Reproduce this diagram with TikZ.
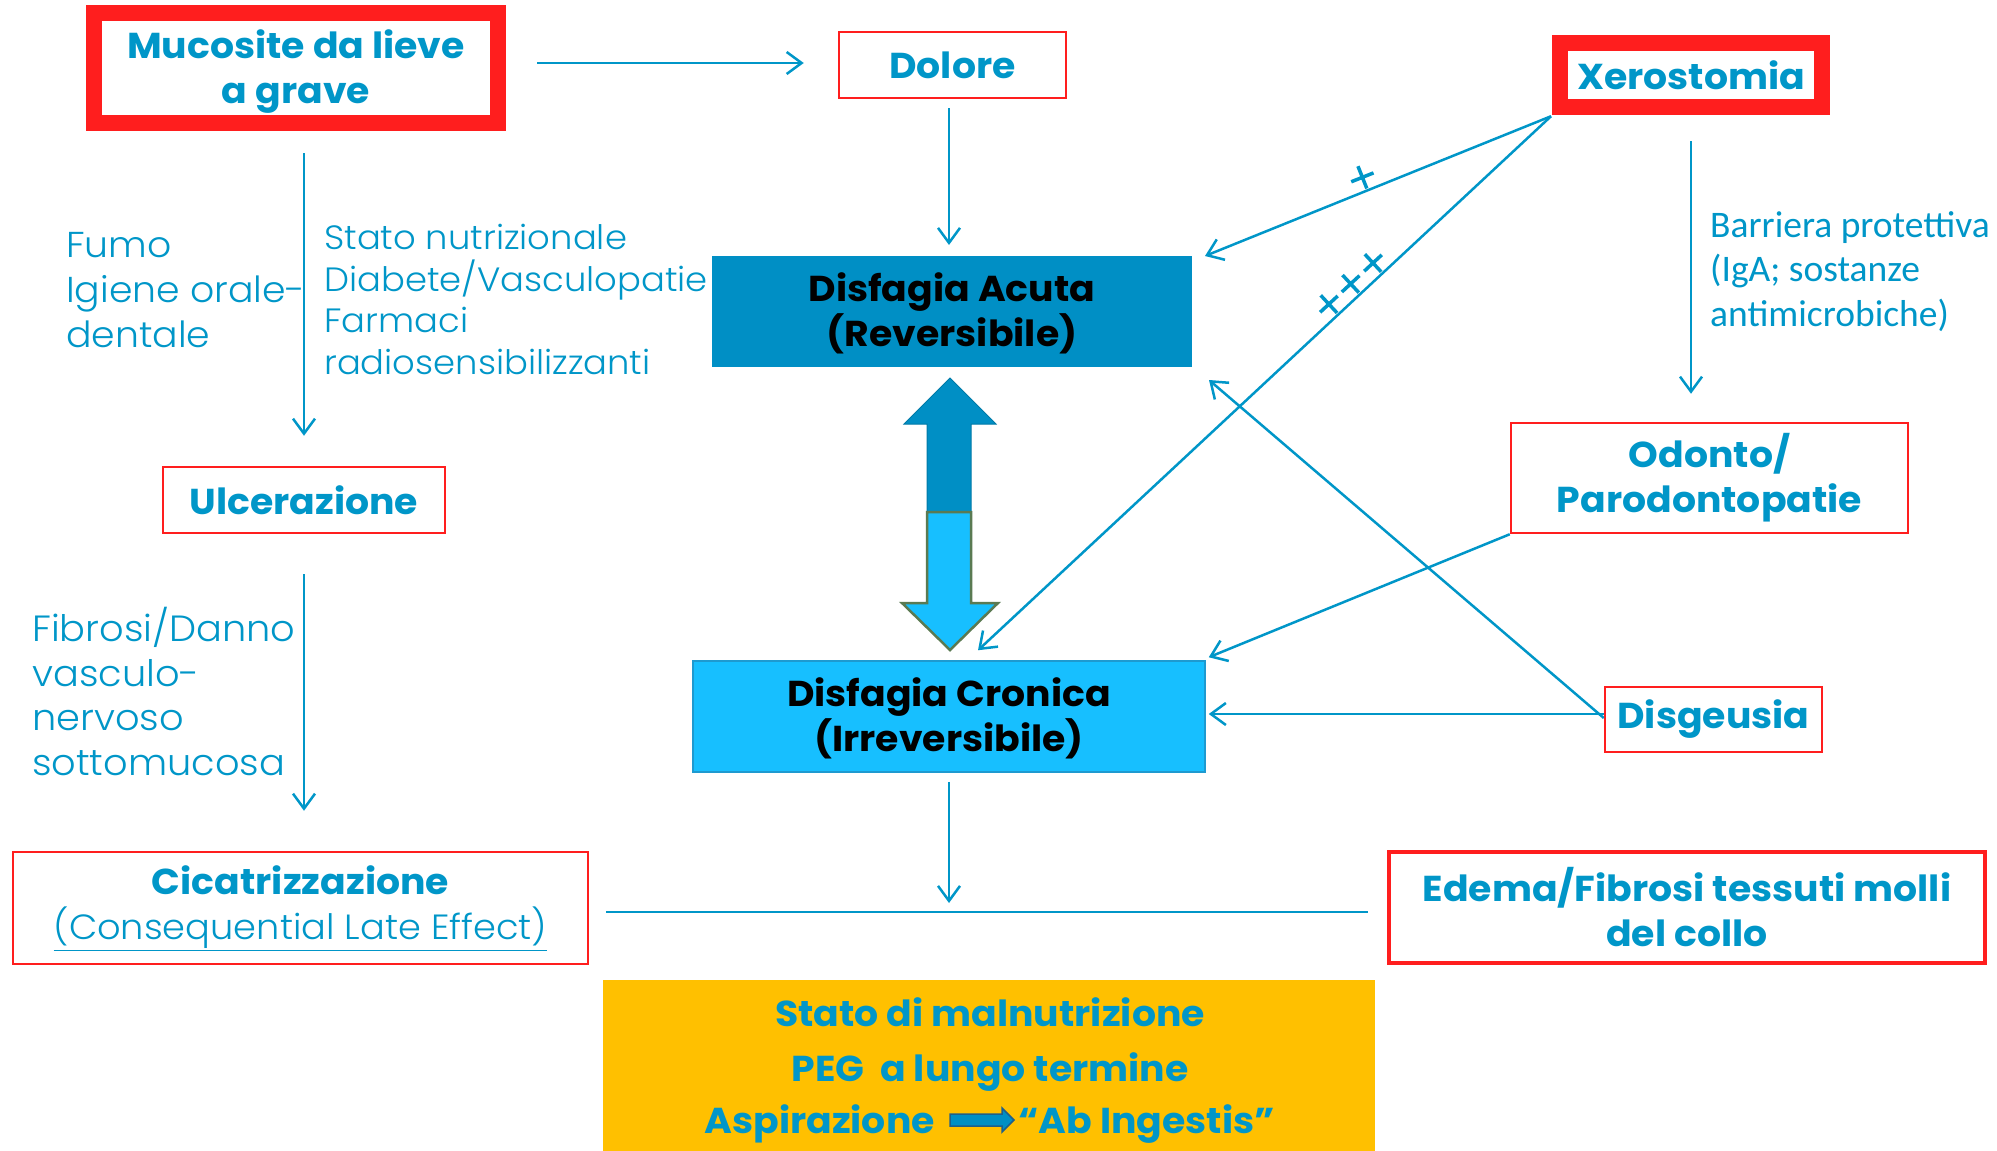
\documentclass[tikz,border=0pt]{standalone}
\usepackage{fontspec}
\setmainfont{Poppins}[FakeStretch=1.05]
\newfontfamily\plight{Poppins Light}[FakeStretch=1.05]
\newfontfamily\carl{Carlito}
\usetikzlibrary{arrows.meta,calc}
\definecolor{tblue}{HTML}{0096C8}
\definecolor{myred}{HTML}{FF1E1E}
\definecolor{acb}{HTML}{008FC5}
\definecolor{crb}{HTML}{17BFFF}
\definecolor{crline}{HTML}{1E9AD0}
\definecolor{yel}{HTML}{FFC000}
\definecolor{olive}{HTML}{5A7A52}
\definecolor{darrow}{HTML}{1F5F8A}
\newcommand{\bfnt}{\fontsize{36}{45}\selectfont\bfseries}
\tikzset{
  thickbox/.style={draw=myred, line width=16pt, text=tblue, align=center, font=\bfnt, inner sep=0pt},
  thinbox/.style={draw=myred, line width=2.5pt, text=tblue, align=center, font=\bfnt, inner sep=0pt},
  midbox/.style={draw=myred, line width=4pt, text=tblue, align=center, font=\bfnt, inner sep=0pt},
  lighttxt/.style={text=tblue, align=left, inner sep=0pt, anchor=west},
  tline/.style={draw=tblue, line width=2.5pt},
  arr/.style={tline, -{Straight Barb[length=15pt,width=22pt,line width=2.5pt]}},
  plusmk/.pic={\draw[tblue, line width=3.5pt] (-12,0)--(12,0) (0,-12)--(0,12);}
}
\begin{document}
\begin{tikzpicture}[x=1pt,y=-1pt]
\useasboundingbox (0,0) rectangle (1997,1151);
% boxes
\node[thickbox, minimum width=404pt, minimum height=110pt] (muc) at (296,68) {\rule{0pt}{35pt}Mucosite da lieve\\a grave};
\node[thinbox, minimum width=227pt, minimum height=66pt] (dol) at (952.5,65) {Dolore};
\node[thickbox, minimum width=262pt, minimum height=64.5pt] (xer) at (1691,75) {Xerostomia};
\node[fill=acb, outer sep=0pt, minimum width=480pt, minimum height=111pt, align=center, font=\bfnt, text=black, inner sep=0pt] (acu) at (952,311.5) {\rule{0pt}{32pt}Disfagia Acuta\\(Reversibile)};
\node[thinbox, minimum width=282pt, minimum height=66pt] (ulc) at (304,500) {Ulcerazione};
\node[thinbox, minimum width=397pt, minimum height=110pt] (odo) at (1709.5,478) {Odonto/\\Parodontopatie};
\node[fill=crb, draw=crline, line width=1.5pt, minimum width=512pt, minimum height=111pt, align=center, font=\bfnt, text=black, inner sep=0pt] (cro) at (949,716.5) {\rule{0pt}{32pt}Disfagia Cronica\\(Irreversibile)};
\node[thinbox, minimum width=217pt, minimum height=65pt] (dis) at (1713.5,719.5) {Disgeusia};
\node[thinbox, minimum width=575pt, minimum height=112pt] (cic) at (300.5,908) {Cicatrizzazione\\{\fontsize{35}{45}\selectfont\mdseries\plight\underline{(Consequential Late Effect)}}};
\node[midbox, minimum width=596pt, minimum height=111pt] (ede) at (1687,907.5) {Edema/Fibrosi tessuti molli\\del collo};
% yellow box
\node[fill=yel, minimum width=772pt, minimum height=175pt, anchor=north, inner sep=0pt] (yb) at (989,980) {};
\node[text=tblue, font=\bfnt, anchor=base, inner sep=0pt] (y1) at (990,1026) {Stato di malnutrizione};
\node[text=tblue, font=\bfnt, anchor=base, inner sep=0pt] (y2) at (990,1081) {PEG\ \ a lungo termine};
\node[text=tblue, font=\bfnt, anchor=base east, inner sep=0pt] (y3) at (935,1133) {Aspirazione};
\node[text=tblue, font=\bfnt, anchor=base west, inner sep=0pt] (y4) at (1018,1133) {“Ab Ingestis”};
\draw[fill=acb, draw=darrow, line width=1.5pt] (950,1114)--(1002,1114)--(1002,1108)--(1014,1120)--(1002,1132)--(1002,1126)--(950,1126)--cycle;
% light texts
\node[lighttxt, font={\fontsize{36}{45}\selectfont\plight}] (fumo) at (66,290) {Fumo\\Igiene orale-\\dentale};
\node[lighttxt, font={\fontsize{33.7}{41.7}\selectfont\plight}] (stato) at (324,299.5) {Stato nutrizionale\\Diabete/Vasculopatie\\Farmaci\\radiosensibilizzanti};
\node[lighttxt, font={\fontsize{36.5}{44.6}\selectfont\plight}] (fib) at (32,691.5) {Fibrosi/Danno\\vasculo-\\nervoso\\sottomucosa};
\node[lighttxt, font={\fontsize{37.5}{44.6}\selectfont\carl}] (bar) at (1710,271.5) {Barriera protettiva\\(IgA; sostanze\\antimicrobiche)};
% double arrow
\draw[fill=acb, draw=acb!85!black, line width=1pt] (950,378)--(996,424)--(971,424)--(971,512)--(927,512)--(927,424)--(904,424)--cycle;
\draw[fill=crb, draw=olive, line width=2.5pt] (927,512)--(971,512)--(971,603)--(998,603)--(950,650)--(902,603)--(927,603)--cycle;
% connectors
\draw[arr, shorten <=31pt, shorten >=34pt] ([yshift=5pt]muc.east) -- ([yshift=2pt]dol.west);
\draw[arr, shorten <=9pt, shorten >=11pt] ([xshift=-3.5pt]dol.south) -- ([xshift=-3pt]acu.north);
\draw[arr, shorten <=22pt, shorten >=30pt] (muc.south -| ulc.north) -- (ulc.north);
\draw[arr, shorten <=40pt, shorten >=40pt] (ulc.south) -- (ulc.south |- cic.north);
\draw[arr, shorten <=26pt, shorten >=28pt] (xer.south) -- (xer.south |- odo.north);
\coordinate (xs) at ([xshift=-1pt,yshift=-1pt]xer.south west);
\coordinate (t1) at ([xshift=13pt]acu.north east);
\coordinate (t2) at ([xshift=29pt,yshift=10pt]cro.north);
\draw[arr] (xs) -- (t1);
\draw[arr] (xs) -- (t2);
\draw[arr] (odo.south west) -- ([xshift=3pt,yshift=3pt]cro.north east);
\draw[arr] ([yshift=5.5pt]dis.west) -- ([xshift=3pt,yshift=2.5pt]cro.east);
\draw[arr] ([yshift=1.5pt]dis.west) -- ([xshift=17pt,yshift=-13pt]acu.south east);
\coordinate (hl) at (606,912);
\coordinate (hr) at (1368,912);
\draw[tblue, line width=2pt] (hl) -- (hr);
\draw[arr, shorten <=9pt, shorten >=9pt] (cro.south) -- (cro.south |- hl);
% plus marks
\pic[rotate=21.7] at ($($(xs)!0.53!(t1)$)!14pt!-90:(t1)$) {plusmk};
\foreach \t in {0.294,0.333,0.371}
  \pic[rotate=42.9] at ($($(xs)!\t!(t2)$)!14pt!-90:(t2)$) {plusmk};
\end{tikzpicture}
\end{document}
